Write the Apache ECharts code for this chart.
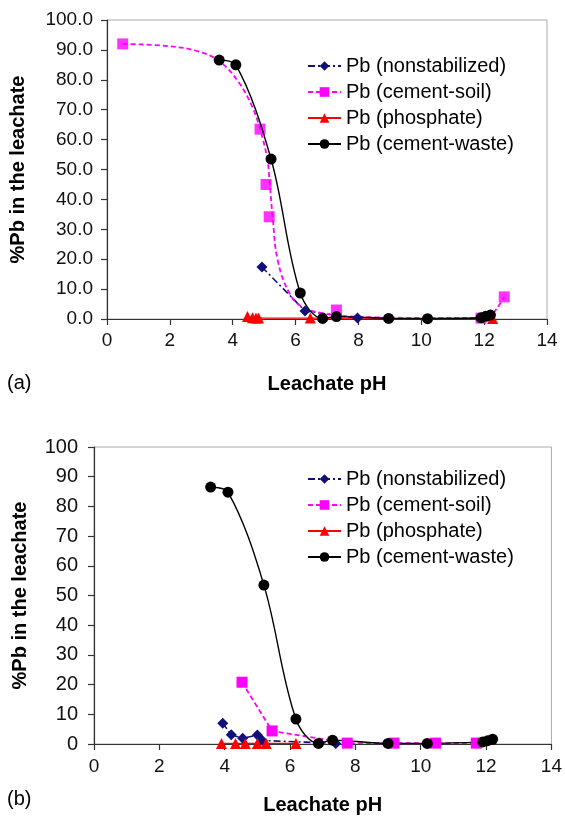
<!DOCTYPE html>
<html>
<head>
<meta charset="utf-8">
<script src="https://cdn.jsdelivr.net/npm/echarts@6/dist/echarts.min.js"></script>
<style>
html,body{margin:0;padding:0;background:#fff;}
#c{width:565px;height:816px;}
</style>
</head>
<body>
<div id="c"></div>
<script>
// ---- data ----
const seriesNames = ['Pb (nonstabilized)', 'Pb (cement-soil)', 'Pb (phosphate)', 'Pb (cement-waste)'];

// panel (a)
const aNonstab = [[4.93,17.4],[6.3,2.7],[7.97,0.3]];
const aSoilPts = [[0.5,92.0],[4.87,63.5],[5.06,45.0],[5.16,34.2],[7.3,3.0],[11.9,0.3],[12.64,7.4]];
const aSoilCurve = [[0.5,92.0],[1.9,91.3],[2.9,89.5],[3.6,86.0],[4.2,79.0],[4.62,71.0],[4.87,63.5],[5.1,53.5],[5.18,45.0],[5.27,34.2],[5.43,19.7],[5.8,8.7],[6.2,4.1],[6.85,2.0],[7.9,0.8],[10.0,0.4],[11.8,0.4],[12.27,2.0],[12.48,4.7],[12.64,7.4]];
const aPhos = [[4.47,0.8],[4.63,0.4],[4.74,0.3],[4.82,0.3],[6.47,0.3],[12.27,0.2]];
const aWaste = [[3.57,86.6],[4.1,85.0],[5.22,53.5],[6.15,8.7],[6.86,0.2],[7.3,0.8],[8.96,0.2],[10.2,0.1],[11.9,0.4],[12.05,0.9],[12.2,1.3]];

// panel (b)
const bNonstab = [[3.94,7.0],[4.2,3.1],[4.55,1.9],[5.0,3.0],[5.15,1.2],[7.4,0.2]];
const bSoil = [[4.53,20.8],[5.45,4.4],[7.75,0.3],[9.18,0.3],[10.45,0.3],[11.7,0.3]];
const bPhos = [[3.9,0.2],[4.33,0.2],[4.63,0.2],[5.0,0.2],[5.27,0.2],[6.18,0.2]];
const bWaste = [[3.57,86.5],[4.1,84.8],[5.2,53.5],[6.18,8.4],[6.87,0.2],[7.3,1.3],[9.0,0.2],[10.2,0.2],[11.9,0.7],[12.05,1.1],[12.2,1.6]];

const xMin = 0, xMax = 14, xStep = 2;
const yMin = 0, yMax = 100, yStep = 10;

// ---- styling ----
const FONT = '"Liberation Sans", Arial, Helvetica, sans-serif';
const NAVY = '#10107a', MAG = '#ff00ff', RED = '#ff0000', BLK = '#000000';
const dashDot = [7,3,2,3];

function xAxisCfg(gi, margin, gap) {
  return {
    gridIndex: gi, type: 'value', min: xMin, max: xMax, interval: xStep,
    axisLine: {show: true, lineStyle: {color: '#333', width: 1.2}},
    axisTick: {show: true, length: 6, lineStyle: {color: '#333', width: 1.2}},
    axisLabel: {fontFamily: FONT, fontSize: 19, color: '#111', margin: margin},
    splitLine: {show: false},
    name: 'Leachate pH', nameLocation: 'middle', nameGap: gap,
    nameTextStyle: {fontFamily: FONT, fontSize: 20, fontWeight: 'bold', color: '#000'}
  };
}
function yAxisCfg(gi, margin, gap, fmt, fs) {
  return {
    gridIndex: gi, type: 'value', min: yMin, max: yMax, interval: yStep,
    axisLine: {show: true, lineStyle: {color: '#333', width: 1.2}},
    axisTick: {show: true, length: 6, lineStyle: {color: '#333', width: 1.2}},
    axisLabel: {fontFamily: FONT, fontSize: fs, color: '#111', margin: margin, formatter: fmt},
    splitLine: {show: false},
    name: '%Pb in the leachate', nameLocation: 'middle', nameGap: gap,
    nameTextStyle: {fontFamily: FONT, fontSize: 20, fontWeight: 'bold', color: '#000'}
  };
}
function legendCfg(top) {
  return {
    data: seriesNames, orient: 'vertical', left: 302, top: top,
    itemWidth: 33, itemHeight: 12, itemGap: 6,
    textStyle: {fontFamily: FONT, fontSize: 20, color: '#000', lineHeight: 20}
  };
}

const option = {
  backgroundColor: '#fff',
  animation: false,
  grid: [
    {left: 107, top: 20, width: 440, height: 299, show: true, borderColor: '#aaa', borderWidth: 1},
    {left: 94, top: 447, width: 459, height: 297, show: true, borderColor: '#aaa', borderWidth: 1}
  ],
  xAxis: [xAxisCfg(0, 12, 55), xAxisCfg(1, 13, 51)],
  yAxis: [
    yAxisCfg(0, 14, 79, v => v.toFixed(1), 19),
    yAxisCfg(1, 16, 64, v => String(v), 20)
  ],
  legend: [legendCfg(51), legendCfg(464)],
  graphic: [
    {type: 'text', left: 7, top: 373, style: {text: '(a)', font: '20px ' + FONT, fill: '#000'}},
    {type: 'text', left: 7, top: 789, style: {text: '(b)', font: '20px ' + FONT, fill: '#000'}}
  ],
  series: [
    // ---- (a) ----
    {name: seriesNames[0], type: 'line', xAxisIndex: 0, yAxisIndex: 0, data: aNonstab,
     symbol: 'diamond', symbolSize: 11, color: NAVY,
     lineStyle: {color: NAVY, width: 1.6, type: dashDot}, itemStyle: {color: NAVY}},
    {name: seriesNames[1], type: 'line', xAxisIndex: 0, yAxisIndex: 0, data: aSoilCurve,
     smooth: 0.4, showSymbol: false, symbol: 'rect', symbolSize: 11, color: MAG,
     lineStyle: {color: MAG, width: 1.8, type: [5,3]}, itemStyle: {color: MAG}},
    {name: 'soilPtsA', type: 'scatter', xAxisIndex: 0, yAxisIndex: 0, data: aSoilPts,
     symbol: 'rect', symbolSize: 11, itemStyle: {color: MAG}},
    {name: seriesNames[2], type: 'line', xAxisIndex: 0, yAxisIndex: 0, data: aPhos,
     symbol: 'triangle', symbolSize: 11, color: RED,
     lineStyle: {color: RED, width: 1.4}, itemStyle: {color: RED}},
    {name: seriesNames[3], type: 'line', xAxisIndex: 0, yAxisIndex: 0, data: aWaste,
     smooth: 0.35, symbol: 'circle', symbolSize: 11, color: BLK,
     lineStyle: {color: BLK, width: 1.4}, itemStyle: {color: BLK}},
    // ---- (b) ----
    {name: seriesNames[0], type: 'line', xAxisIndex: 1, yAxisIndex: 1, data: bNonstab,
     symbol: 'diamond', symbolSize: 11, color: NAVY,
     lineStyle: {color: NAVY, width: 1.6, type: dashDot}, itemStyle: {color: NAVY}},
    {name: seriesNames[1], type: 'line', xAxisIndex: 1, yAxisIndex: 1, data: bSoil,
     symbol: 'rect', symbolSize: 11, color: MAG,
     lineStyle: {color: MAG, width: 1.8, type: [5,3]}, itemStyle: {color: MAG}},
    {name: seriesNames[2], type: 'line', xAxisIndex: 1, yAxisIndex: 1, data: bPhos,
     symbol: 'triangle', symbolSize: 11, color: RED,
     lineStyle: {color: RED, width: 1.4}, itemStyle: {color: RED}},
    {name: seriesNames[3], type: 'line', xAxisIndex: 1, yAxisIndex: 1, data: bWaste,
     smooth: 0.35, symbol: 'circle', symbolSize: 11, color: BLK,
     lineStyle: {color: BLK, width: 1.4}, itemStyle: {color: BLK}}
  ]
};

const chart = echarts.init(document.getElementById('c'), null, {renderer: 'canvas'});
chart.setOption(option);
</script>
</body>
</html>
